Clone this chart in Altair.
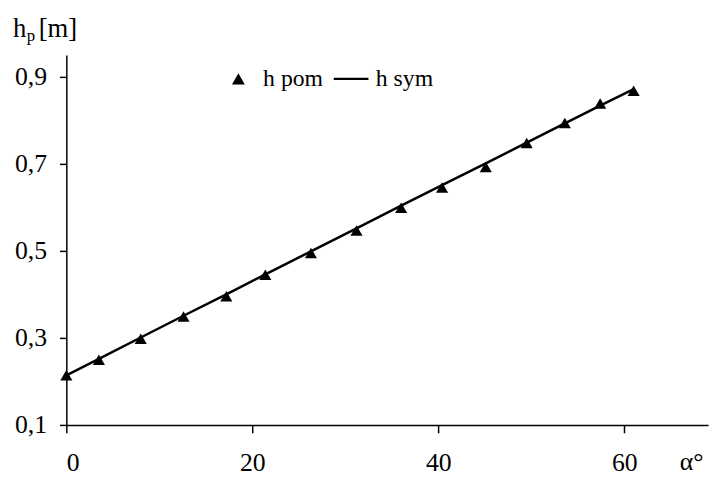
import altair as alt
import pandas as pd

# Data
alpha_pom = [0, 3.5, 8, 12.6, 17.2, 21.4, 26.3, 31.2, 36, 40.4, 45.1, 49.5, 53.6, 57.4, 61]
h_pom = [0.214, 0.250, 0.298, 0.349, 0.396, 0.445, 0.495, 0.547, 0.599, 0.646,
         0.693, 0.748, 0.794, 0.839, 0.868]
alpha_sym = [0, 3.5, 8, 12.6, 17.2, 21.4, 26.3, 31.2, 36, 40.4, 45.1, 49.5, 53.6, 57.4, 61]
h_sym = [0.214, 0.252, 0.301, 0.351, 0.400, 0.446, 0.499, 0.552, 0.604, 0.651,
         0.701, 0.749, 0.793, 0.834, 0.872]
x_ticks = [0, 20, 40, 60]
y_ticks = [0.1, 0.3, 0.5, 0.7, 0.9]
series_names = ["h pom", "h sym"]

FONT = "Liberation Serif"
LINE_SYMBOL = "M-2.7,-0.19H2.7V0.19H-2.7Z"

pom = pd.DataFrame({"alpha": alpha_pom, "h": h_pom, "series": "h pom"})
sym = pd.DataFrame({"alpha": alpha_sym, "h": h_sym, "series": "h sym"})

x_enc = alt.X(
    "alpha:Q",
    scale=alt.Scale(domain=[0, 69], nice=False, zero=False),
    axis=alt.Axis(
        values=x_ticks, format="d", grid=False,
        title="α°", titleX=620, titleY=45, titleAlign="left",
        titleBaseline="alphabetic", titleFont=FONT, titleFontSize=26,
        titleFontWeight="normal", titleColor="black",
        labelFont=FONT, labelFontSize=26, labelColor="black", labelPadding=17,
        tickSize=8, tickColor="black", tickWidth=1.5,
        domainColor="black", domainWidth=1.5,
    ),
)
y_enc = alt.Y(
    "h:Q",
    scale=alt.Scale(domain=[0.1, 0.95], nice=False, zero=False),
    axis=alt.Axis(
        values=y_ticks, grid=False, title=None,
        labelExpr="replace(format(datum.value, '.1f'), '.', ',')",
        labelFont=FONT, labelFontSize=26, labelColor="black", labelPadding=13,
        tickSize=7, tickColor="black", tickWidth=1.5,
        domainColor="black", domainWidth=1.5,
    ),
)

line = alt.Chart(sym).mark_line(color="black", strokeWidth=2.5).encode(x=x_enc, y=y_enc)

points = alt.Chart(pom).mark_point(filled=True, color="black", size=150, opacity=1).encode(
    x=x_enc,
    y=y_enc,
    shape=alt.Shape(
        "series:N",
        scale=alt.Scale(domain=series_names, range=["triangle-up", LINE_SYMBOL]),
        legend=alt.Legend(
            title=None, orient="none", legendX=162, legendY=12,
            direction="horizontal", padding=0,
            labelFont=FONT, labelFontSize=24, labelColor="black",
            symbolSize=169, symbolFillColor="black", symbolStrokeWidth=0,
            symbolOpacity=1, labelOffset=13, columnPadding=10,
        ),
    ),
)

def label(txt, px, py, size):
    return alt.Chart(pd.DataFrame({"t": [txt]})).mark_text(
        font=FONT, fontSize=size, color="black", align="left", baseline="alphabetic"
    ).encode(text="t:N", x=alt.value(px), y=alt.value(py))

title_h = label("h", -54, -18, 27)
title_p = label("p", -40, -14, 17)
title_m = label("[m]", -28, -18, 27)

chart = alt.layer(line, points, title_h, title_p, title_m).properties(
    width=649,
    height=374,
    autosize=alt.AutoSizeParams(type="none"),
    padding={"left": 59, "top": 45, "right": 4, "bottom": 50},
).configure_view(strokeWidth=0)

chart.save("out.html", embed_options={"renderer": "svg", "actions": False})
